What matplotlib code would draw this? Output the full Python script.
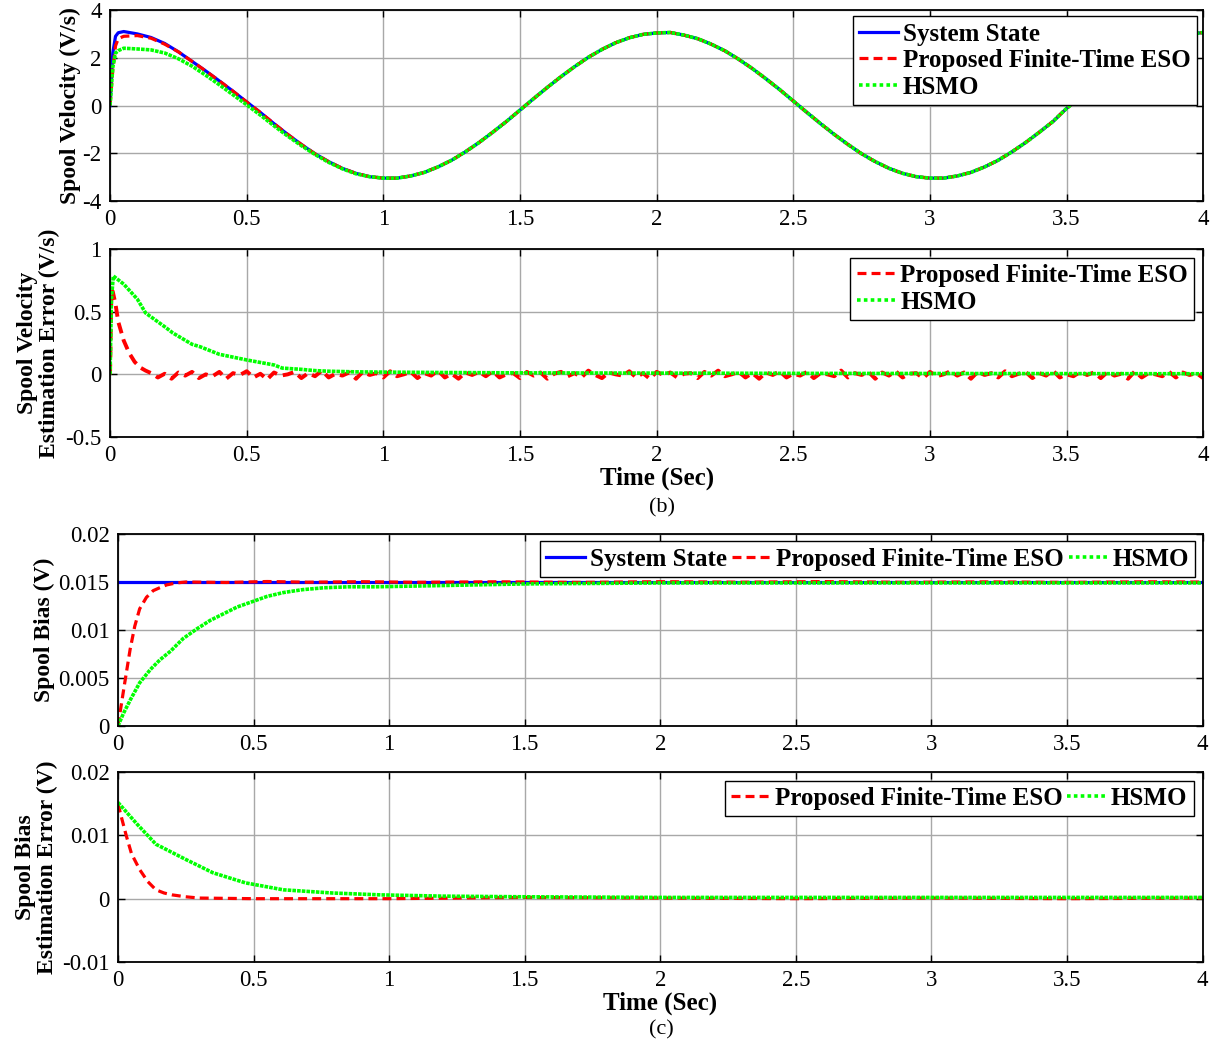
import numpy as np
import matplotlib
matplotlib.use('Agg')
from matplotlib import pyplot as plt
from matplotlib.lines import Line2D
from matplotlib.ticker import FormatStrFormatter

plt.rcParams['font.family'] = ['Liberation Serif', 'DejaVu Serif']
plt.rcParams['axes.unicode_minus'] = False

# ---------------- daten ----------------
# (a) spool velocity
t_vel = [0, 0.01, 0.02, 0.03, 0.05, 0.1, 0.15, 0.2, 0.25, 0.3, 0.35, 0.4, 0.45, 0.5,
         0.55, 0.6, 0.65, 0.7, 0.75, 0.8, 0.85, 0.9, 0.95, 1.0, 1.05, 1.1, 1.15, 1.2,
         1.25, 1.3, 1.35, 1.4, 1.45, 1.5, 1.55, 1.6, 1.65, 1.7, 1.75, 1.8, 1.85, 1.9,
         1.95, 2.0, 2.05, 2.1, 2.15, 2.2, 2.25, 2.3, 2.35, 2.4, 2.45, 2.5, 2.55, 2.6,
         2.65, 2.7, 2.75, 2.8, 2.85, 2.9, 2.95, 3.0, 3.05, 3.1, 3.15, 3.2, 3.25, 3.3,
         3.35, 3.4, 3.45, 3.5, 3.55, 3.6, 3.65, 3.7, 3.75, 3.8, 3.85, 3.9, 3.95, 4.0]
vel_state = [0, 2.2, 2.9, 3.05, 3.1, 3.0, 2.85, 2.6, 2.25, 1.85, 1.45, 1.03, 0.6, 0.15,
             -0.29, -0.76, -1.21, -1.63, -2.02, -2.35, -2.63, -2.84, -2.98, -3.04, -3.04,
             -2.95, -2.80, -2.57, -2.29, -1.94, -1.55, -1.12, -0.67, -0.19, 0.29, 0.76,
             1.21, 1.63, 2.02, 2.35, 2.63, 2.84, 2.98, 3.04, 3.06, 2.95, 2.80, 2.57, 2.29,
             1.94, 1.55, 1.12, 0.67, 0.19, -0.29, -0.76, -1.21, -1.63, -2.02, -2.35, -2.63,
             -2.84, -2.98, -3.04, -3.04, -2.95, -2.80, -2.57, -2.29, -1.94, -1.55, -1.12,
             -0.67, -0.12, 0.35, 0.8, 1.25, 1.66, 2.04, 2.37, 2.64, 2.85, 2.99, 3.06]
vel_eso_start = [0, 1.5, 2.5, 2.8, 2.9, 2.93, 2.82, 2.57]
vel_hsmo_start = [0, 1.6, 2.2, 2.3, 2.4, 2.37, 2.33, 2.2, 1.96, 1.65, 1.27, 0.87, 0.45,
                  0.03, -0.4, -0.85, -1.28, -1.68, -2.05, -2.38, -2.65, -2.86]

# (b) spool velocity estimation error
t_verr_eso = [0, 0.005, 0.01, 0.02, 0.03, 0.05, 0.07, 0.09, 0.11, 0.13]
verr_eso_start = [0, 0.68, 0.66, 0.56, 0.42, 0.27, 0.17, 0.1, 0.055, 0.03]
verr_eso_rest = [0.01, -0.025, 0.005, -0.035, 0.015, -0.01, 0.02, -0.03, 0.0, -0.015,
                 0.02, -0.035, 0.01, -0.005, 0.025, -0.025, 0.005, -0.04, 0.015, -0.01,
                 0.0, 0.02, -0.03, 0.01, -0.015, 0.03, -0.025, 0.005, -0.01, 0.015,
                 -0.035, 0.02, -0.005, 0.01, -0.025, 0.025, -0.015, 0.0, 0.02, -0.03,
                 0.01, -0.01, 0.03, -0.025, 0.005, -0.035, 0.015, -0.005, 0.02, -0.015,
                 0.025, -0.025, 0.0, 0.01, -0.03, 0.02, -0.01, 0.015, -0.035, 0.005,
                 0.02, -0.015, 0.01, -0.025, 0.03, -0.005, -0.03, 0.015, 0.0, -0.01,
                 0.025, -0.025, 0.01, -0.035, 0.02, -0.005, 0.015, -0.025, 0.005, 0.01,
                 -0.03, 0.02, -0.01, 0.03, -0.015, 0.0, 0.02, -0.025, 0.01, -0.035,
                 0.015, -0.005, 0.025, -0.025, 0.005, -0.01, 0.02, -0.03, 0.01, 0.0,
                 -0.015, 0.03, -0.025, 0.01, -0.005, 0.02, -0.035, 0.015, -0.01, 0.025,
                 -0.025, 0.005, 0.01, -0.03, 0.02, -0.015, 0.0, 0.025, -0.01, 0.015,
                 -0.035, 0.02, -0.005, 0.01, -0.025, 0.025, -0.015, 0.005, 0.02, -0.03,
                 0.01, -0.01, 0.03, -0.025, 0.0, -0.015, 0.02, -0.005, 0.015, -0.03,
                 0.02, -0.01, 0.005, -0.035, 0.025, -0.025, 0.01, 0.0, -0.015, 0.02,
                 -0.025, 0.015, -0.005, 0.01, -0.03]
t_verr_hsmo = [0, 0.005, 0.012, 0.05, 0.1, 0.13, 0.2, 0.23, 0.3, 0.33, 0.4, 0.5, 0.6,
               0.63, 0.7, 0.75, 0.8, 0.9, 1.0, 1.2, 1.5, 2.0, 2.5, 3.0, 3.5, 4.0]
verr_hsmo = [0, 0.6, 0.785, 0.72, 0.6, 0.49, 0.38, 0.33, 0.24, 0.22, 0.16, 0.115, 0.075,
             0.05, 0.04, 0.03, 0.025, 0.02, 0.018, 0.015, 0.012, 0.01, 0.008, 0.007,
             0.006, 0.005]

# (c) spool bias
t_bias_state = [0, 4]
bias_state = [0.015, 0.015]
t_bias_eso = [0, 0.025, 0.045, 0.062, 0.08, 0.105, 0.13, 0.154, 0.18, 0.215, 0.25, 0.4,
              0.55, 0.7, 0.9, 1.1, 1.4, 1.7, 2.0, 2.3, 2.6, 2.9, 3.2, 3.5, 3.8, 4.0]
bias_eso = [0, 0.0045, 0.008, 0.0104, 0.0122, 0.0134, 0.0141, 0.0144, 0.0147, 0.0149,
            0.015, 0.01495, 0.01505, 0.01498, 0.01503, 0.01497, 0.01502, 0.01496, 0.01503,
            0.01498, 0.01504, 0.01497, 0.01501, 0.01496, 0.01502, 0.01499]
t_bias_hsmo = [0, 0.02, 0.047, 0.08, 0.12, 0.155, 0.194, 0.24, 0.29, 0.34, 0.39, 0.44,
               0.5, 0.55, 0.61, 0.68, 0.76, 0.85, 0.95, 1.14, 1.5, 2.0, 2.5, 3.0, 3.5, 4.0]
bias_hsmo = [0, 0.0013, 0.0028, 0.0045, 0.0059, 0.0069, 0.0078, 0.0091, 0.0101, 0.011,
             0.0117, 0.0124, 0.013, 0.0135, 0.0139, 0.0142, 0.0144, 0.0145, 0.0145,
             0.0146, 0.0148, 0.0149, 0.0149, 0.0149, 0.0149, 0.0149]

# spool bias estimation error
t_berr_eso = [0, 0.015, 0.031, 0.05, 0.08, 0.11, 0.14, 0.17, 0.2, 0.25, 0.3, 0.5, 0.75,
              1.0, 1.5, 2.0, 2.5, 3.0, 3.5, 4.0]
berr_eso = [0.015, 0.0125, 0.0099, 0.0071, 0.0046, 0.0027, 0.0014, 0.0009, 0.0006,
            0.0003, 0.0001, 0.0, 0.0, 0.0, 0.0002, 0.0001, 0.0, 0.0001, 0.0, 0.0001]
t_berr_hsmo = [0, 0.07, 0.14, 0.25, 0.35, 0.47, 0.61, 0.79, 0.97, 1.2, 1.5, 2.0, 2.5,
               3.0, 3.5, 4.0]
berr_hsmo = [0.0152, 0.0118, 0.0086, 0.0062, 0.0041, 0.0025, 0.0014, 0.0009, 0.0006,
             0.0004, 0.0003, 0.0002, 0.0002, 0.0002, 0.0002, 0.0002]

xticks = [0, 0.5, 1, 1.5, 2, 2.5, 3, 3.5, 4]

# ---------------- zeichnen ----------------
blau = '#0000ff'
rot = '#ff0000'
gruen = '#00ff00'
lw = 2.3
strich = (0, (2.8, 1.6))
punkt_linie = (0, (1, 0.3))
punkt_legende = (0, (1, 0.9))

fig = plt.figure(figsize=(12.16, 10.46), dpi=100)
ax1 = fig.add_axes([0.0905, 0.8078, 0.899, 0.1826])
ax2 = fig.add_axes([0.0905, 0.5822, 0.899, 0.1797])
ax3 = fig.add_axes([0.0970, 0.3059, 0.892, 0.1836])
ax4 = fig.add_axes([0.0970, 0.0803, 0.892, 0.1816])

h_state = Line2D([], [], color=blau, lw=lw)
h_eso = Line2D([], [], color=rot, lw=lw, ls=strich)
h_hsmo = Line2D([], [], color=gruen, lw=2.6, ls=punkt_legende)


def stil(ax, ylim, yticks):
    ax.set_xlim(0, 4)
    ax.set_ylim(*ylim)
    ax.set_xticks(xticks)
    ax.set_yticks(yticks)
    ax.xaxis.set_major_formatter(FormatStrFormatter('%g'))
    ax.yaxis.set_major_formatter(FormatStrFormatter('%g'))
    ax.grid(True, color='#a8a8a8', linewidth=1.0)
    ax.tick_params(direction='in', top=True, right=True, length=5, width=1,
                   labelsize=16.5, pad=6)
    for s in ax.spines.values():
        s.set_linewidth(1.3)


def legende(ax, handles, labels, ncol=1, pad=0.3):
    ax.legend(handles, labels, loc='upper right', prop=leg_font, fancybox=False,
              framealpha=1, edgecolor='black', ncol=ncol, handlelength=1.55,
              handletextpad=0.2, labelspacing=0.14, columnspacing=0.2,
              borderpad=0.25, borderaxespad=pad)


leg_font = {'weight': 'bold', 'size': 18}
lab_font = {'weight': 'bold', 'size': 17}

# (a)
ax1.plot(t_vel, vel_state, color=blau, lw=lw)
ax1.plot(t_vel, vel_eso_start + vel_state[len(vel_eso_start):], color=rot, lw=lw,
         ls=strich)
ax1.plot(t_vel, vel_hsmo_start + vel_state[len(vel_hsmo_start):], color=gruen, lw=2.6,
         ls=punkt_linie)
stil(ax1, (-4, 4), [-4, -2, 0, 2, 4])
ax1.set_ylabel('Spool Velocity (V/s)', fontdict=lab_font)
ax1.yaxis.set_label_coords(-0.027, 0.5)
legende(ax1, [h_state, h_eso, h_hsmo],
        ['System State', 'Proposed Finite-Time ESO', 'HSMO'], pad=0.25)

# (b)
t_rest = np.linspace(0.15, 4.0, len(verr_eso_rest))
ax2.plot(t_verr_eso + list(t_rest), verr_eso_start + verr_eso_rest, color=rot, lw=2.8,
         ls=strich)
ax2.plot(t_verr_hsmo, verr_hsmo, color=gruen, lw=2.6, ls=punkt_linie)
stil(ax2, (-0.5, 1), [-0.5, 0, 0.5, 1])
ax2.set_ylabel('Spool Velocity\nEstimation Error (V/s)', fontdict=lab_font,
               linespacing=1.05)
ax2.yaxis.set_label_coords(-0.046, 0.5)
ax2.set_xlabel('Time (Sec)', fontdict={'weight': 'bold', 'size': 18}, labelpad=0)
legende(ax2, [h_eso, h_hsmo], ['Proposed Finite-Time ESO', 'HSMO'], pad=0.35)
fig.text(662 / 1216, 1 - 508 / 1046, '(b)', ha='center', va='center', fontsize=16)

# (c)
ax3.plot(t_bias_state, bias_state, color=blau, lw=lw)
ax3.plot(t_bias_eso, bias_eso, color=rot, lw=lw, ls=strich)
ax3.plot(t_bias_hsmo, bias_hsmo, color=gruen, lw=2.6, ls=punkt_linie)
stil(ax3, (0, 0.02), [0, 0.005, 0.01, 0.015, 0.02])
ax3.set_ylabel('Spool Bias (V)', fontdict=lab_font)
ax3.yaxis.set_label_coords(-0.058, 0.5)
legende(ax3, [h_state, h_eso, h_hsmo],
        ['System State', 'Proposed Finite-Time ESO', 'HSMO'], ncol=3, pad=0.3)

ax4.plot(t_berr_eso, berr_eso, color=rot, lw=lw, ls=strich)
ax4.plot(t_berr_hsmo, berr_hsmo, color=gruen, lw=2.6, ls=punkt_linie)
stil(ax4, (-0.01, 0.02), [-0.01, 0, 0.01, 0.02])
ax4.set_ylabel('Spool Bias\nEstimation Error (V)', fontdict=lab_font, linespacing=1.05)
ax4.yaxis.set_label_coords(-0.055, 0.5)
ax4.set_xlabel('Time (Sec)', fontdict={'weight': 'bold', 'size': 18}, labelpad=0)
legende(ax4, [h_eso, h_hsmo], ['Proposed Finite-Time ESO', 'HSMO'], ncol=2, pad=0.35)
fig.text(661 / 1216, 1 - 1030 / 1046, '(c)', ha='center', va='center', fontsize=16)

plt.savefig('out.png', dpi=100)
